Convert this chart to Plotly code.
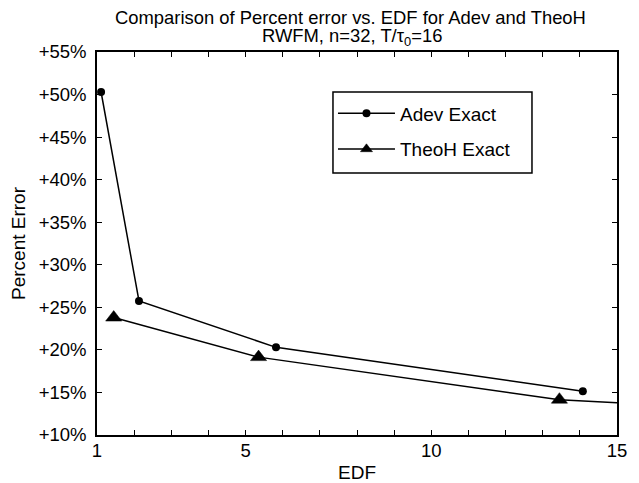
import plotly.graph_objects as go

# Data
adev_edf = [1.11, 2.13, 5.82, 14.08]
adev_err = [50.3, 25.75, 20.3, 15.15]
theoh_edf = [1.45, 5.35, 13.45, 15.0]
theoh_err = [23.8, 19.15, 14.15, 13.8]
theoh_marker_size = [14, 14, 14, 0]

x_tickvals = [1, 5, 10, 15]
x_ticktext = ["1", "5", "10", "15"]
y_tickvals = [10, 15, 20, 25, 30, 35, 40, 45, 50, 55]
y_ticktext = ["+%d%%" % v for v in y_tickvals]
title_line1 = "Comparison of Percent error vs. EDF for Adev and TheoH"
title_line2 = "RWFM, n=32, T/τ<sub>0</sub>=16"

FONT = "Liberation Sans, Arial, Helvetica, sans-serif"

fig = go.Figure()
fig.add_trace(go.Scatter(
    x=adev_edf, y=adev_err, name="Adev Exact", mode="lines+markers",
    line=dict(color="black", width=1.5),
    marker=dict(symbol="circle", size=8, color="black", opacity=1),
    legendgroup="a",
))
fig.add_trace(go.Scatter(
    x=theoh_edf, y=theoh_err, name="TheoH Exact", mode="lines+markers",
    line=dict(color="black", width=1.5),
    marker=dict(symbol="triangle-up", size=theoh_marker_size, color="black", opacity=1,
                line=dict(color="black", width=0.5)),
    legendgroup="b",
))

fig.add_annotation(text=title_line1, xref="paper", yref="paper", x=0.487, y=1,
                   xanchor="center", yanchor="middle", yshift=35, showarrow=False,
                   font=dict(family=FONT, size=18.4, color="black"))
fig.add_annotation(text=title_line2, xref="paper", yref="paper", x=0.49, y=1,
                   xanchor="center", yanchor="middle", yshift=15.5, showarrow=False,
                   font=dict(family=FONT, size=18.4, color="black"))

# legend frame
fig.add_shape(type="rect", xref="paper", yref="paper",
              x0=0.4538, x1=0.8365, y0=0.684, y1=0.8956,
              line=dict(color="black", width=1.5), fillcolor="white", layer="above")

fig.update_layout(
    width=631, height=475,
    margin=dict(l=89, r=22, t=44, b=48),
    paper_bgcolor="white", plot_bgcolor="white",
    font=dict(family=FONT, size=18, color="black"),
    showlegend=True,
    legend=dict(
        x=0.4538, y=0.889, xanchor="left", yanchor="top",
        bgcolor="rgba(0,0,0,0)", borderwidth=0,
        font=dict(family=FONT, size=19, color="black"),
        tracegroupgap=8, itemwidth=57,
    ),
    xaxis=dict(
        range=[1, 15], tickvals=x_tickvals, ticktext=x_ticktext,
        ticks="inside", ticklen=5, tickwidth=1, tickcolor="black",
        minor=dict(tick0=1, dtick=1, ticks="inside", ticklen=5, tickwidth=1, tickcolor="black"),
        showline=True, linecolor="black", linewidth=1.5, mirror="ticks",
        showgrid=False, zeroline=False, automargin=False,
        tickfont=dict(family=FONT, size=18.5),
        ticklabelstandoff=-2,
        title=dict(text="EDF", font=dict(family=FONT, size=19), standoff=9),
    ),
    yaxis=dict(
        range=[10, 55], tickvals=y_tickvals, ticktext=y_ticktext,
        ticks="inside", ticklen=5, tickwidth=1, tickcolor="black",
        showline=True, linecolor="black", linewidth=1.5, mirror="ticks",
        showgrid=False, zeroline=False, automargin=False,
        tickfont=dict(family=FONT, size=18.5),
        ticklabelstandoff=5,
        title=dict(text="Percent Error", font=dict(family=FONT, size=19), standoff=16),
    ),
)

fig.write_html("out.html")
